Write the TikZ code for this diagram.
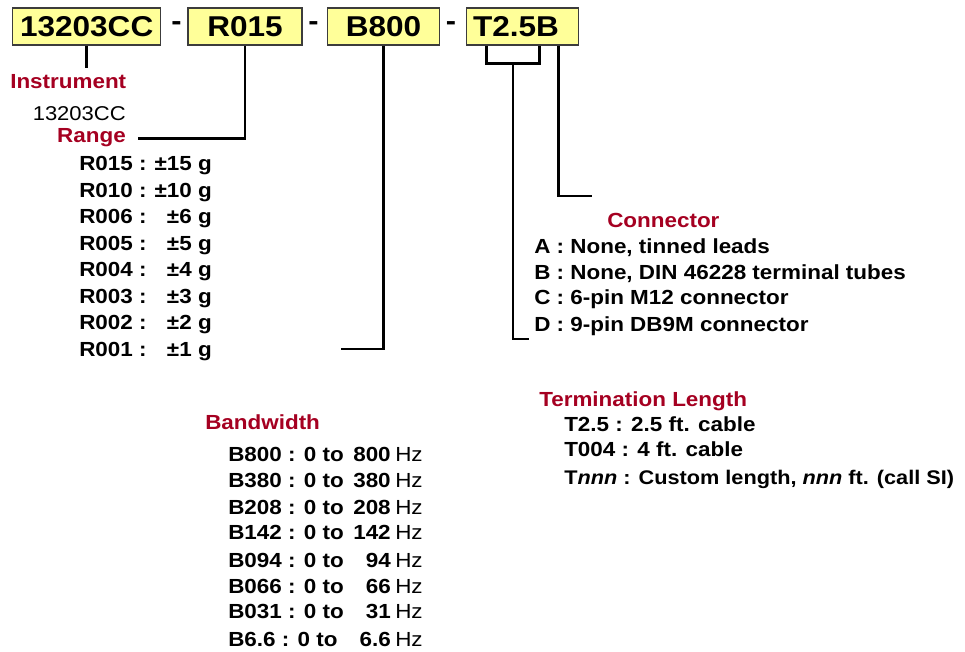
\documentclass[tikz,border=0pt]{standalone}
\usepackage{fontspec}
\setmainfont[FakeStretch=1.1]{Liberation Sans}
\usepackage{tikz}
\usetikzlibrary{positioning}
\usepackage{xcolor}
\definecolor{pnred}{RGB}{165,0,33}
\definecolor{pnyellow}{RGB}{255,255,153}
\definecolor{pngray}{RGB}{60,60,60}
\tikzstyle{codebox} = [rectangle, minimum height=27.75pt, inner sep=0pt, draw=pngray, fill=pnyellow, line width=1pt, font=\fontsize{21.5}{24}\selectfont\bfseries]
\tikzstyle{dashmark} = [inner sep=0pt, font=\fontsize{21}{24}\selectfont\bfseries]
\tikzstyle{heading} = [anchor=base west, inner sep=0pt, text=pnred, font=\fontsize{15.3}{18}\selectfont\bfseries]
\tikzstyle{item} = [anchor=base west, inner sep=0pt, font=\fontsize{15.3}{18}\selectfont\bfseries]
\tikzstyle{link} = [line width=2.2pt, color=black]

\begin{document}
\begin{tikzpicture}[x=0.75pt,y=-0.75pt]
\useasboundingbox (0,0) rectangle (965,652);

% Part number boxes
\node[codebox, minimum width=111pt] (pninst) at (86.7,26.5) {13203CC};
\node[dashmark] (dash1) at (176.5,26) {-};
\node[codebox, minimum width=85.5pt] (pnrange) at (245,26.5) {R015};
\node[dashmark] (dash2) at (313.5,26) {-};
\node[codebox, minimum width=83.7pt] (pnbw) at (383.5,26.5) {B800};
\node[dashmark] (dash3) at (451,26) {-};
\node[codebox, minimum width=83.7pt] (pnterm) at (522.5,26.5) {T2.5B\hspace*{9.75pt}};

% Instrument
\node[heading] (hinst) at (10,88.3) {Instrument};
\node[item, anchor=base east, font=\fontsize{15}{18}\selectfont] (instval) at (126,120.5) {13203CC};
\draw[link] (pninst.south) -- ([yshift=4.5pt]pninst.south |- hinst.north);

% Range
\node[heading, anchor=base east] (hrange) at (126,142.7) {Range};
\foreach \code/\val/\yy [count=\i] in {R015/15/171, R010/10/197.5, R006/6/224, R005/5/250.5, R004/4/277, R003/3/303.5, R002/2/330, R001/1/357} {
  \node[item] (r\i) at (79,\yy) {\code\ :};
  \node[item, anchor=base east] (rv\i) at (212,\yy) {±\val\ g};
}
\draw[link] (pnrange.south) |- ([xshift=9pt,yshift=3pt]hrange.base east);

% Bandwidth
\node[heading] (hbw) at (205,430) {Bandwidth};
\foreach \code/\val/\yy [count=\i] in {B800/800/462, B380/380/488, B208/208/514, B142/142/540, B094/94/567, B066/66/593, B031/31/618, B6.6/6.6/646} {
  \node[item] (bw\i) at (228,\yy) {\code\ : 0 to};
  \node[item, anchor=base east] (bwv\i) at (391,\yy) {\val};
  \node[item] (bwhz\i) at (395,\yy) {\mdseries Hz};
}
\coordinate (bwend) at (341,349);
\draw[link] (pnbw.south) |- (bwend);

% Connector
\node[heading] (hconn) at (607,228) {Connector};
\node[item] (con1) at (534,253.3) {A : None, tinned leads};
\node[item] (con2) at (534,279.3) {B : None, DIN 46228 terminal tubes};
\node[item] (con3) at (534,305) {C : 6-pin M12 connector};
\node[item] (con4) at (534,331.7) {D : 9-pin DB9M connector};

% Termination length
\node[heading] (hterm) at (539,407) {Termination Length};
\node[item] (term1) at (564,431.7) {T2.5 : 2.5 ft. cable};
\node[item] (term2) at (564,457) {T004 : 4 ft. cable};
\node[item, font=\fontsize{14.8}{18}\selectfont\bfseries] (term3) at (564,484) {T\textit{nnn} : Custom length, \textit{nnn} ft. (call SI)};

% Leads from the last box
\coordinate (tl) at ([xshift=15.2pt]pnterm.south west);
\coordinate (tr) at ([xshift=55pt]pnterm.south west);
\draw[link] (tl) -- ++(0,18) -| (tr);
\coordinate (tm) at (513,63);
\coordinate (connend) at (529,339);
\draw[link] (tm) |- (connend);
\coordinate (tb) at ([xshift=69.2pt]pnterm.south west);
\coordinate (termend) at (592,196);
\draw[link] (tb) |- (termend);
\end{tikzpicture}
\end{document}
